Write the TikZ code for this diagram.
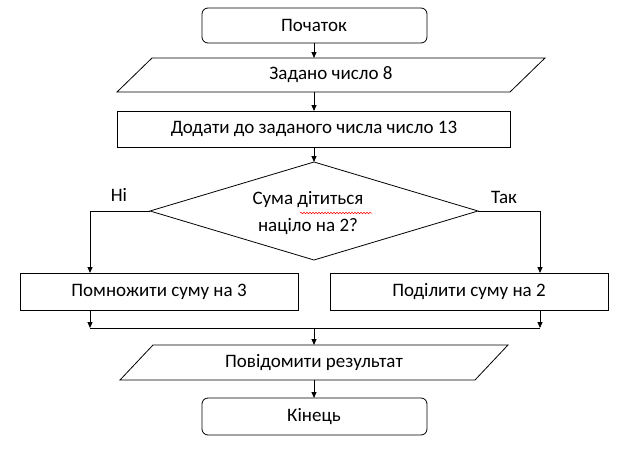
\documentclass[tikz,border=0pt]{standalone}
\usepackage{fontspec}
\setmainfont{Carlito}
\usetikzlibrary{arrows.meta,decorations.pathmorphing}
\begin{document}
\begin{tikzpicture}[x=1pt,y=-1pt,
  line/.style={draw=black,line width=0.8pt},
  arr/.style={line,-{Triangle[length=6pt,width=5pt]}},
  txt/.style={font=\fontsize{19}{27}\selectfont,align=center}]
\useasboundingbox (0,0) rectangle (625,450);
% start
\draw[line,rounded corners=6pt] (202,8) rectangle (427,43);
\node[txt] (start) at (314,25.5) {Початок};
\coordinate (startb) at (314,43);
% input
\draw[line] (152,58) -- (545,58) -- (510,92) -- (117,92) -- cycle;
\node[txt] (in) at (331,75) {Задано число 8};
\coordinate (int) at (314,58); \coordinate (inb) at (314,92);
% process
\draw[line] (117,111) rectangle (510,147);
\node[txt] (add) at (314,129) {Додати до заданого числа число 13};
\coordinate (addt) at (314,111); \coordinate (addb) at (314,147);
% decision
\draw[line] (314,162) -- (478,211) -- (314,260) -- (150,211) -- cycle;
\node[txt] (dec) at (308,213) {Сума дітиться\\націло на 2?};
\draw[red,line width=0.5pt,decorate,decoration={snake,amplitude=0.8pt,segment length=3pt}] (300,213) -- (372,213);
\coordinate (dect) at (314,162); \coordinate (decl) at (150,211); \coordinate (decr) at (478,211);
\node[txt] (no) at (119,195) {Ні};
\node[txt] (yes) at (504,197) {Так};
% branches
\draw[line] (20,273) rectangle (298,310);
\node[txt] (mul) at (159,291.5) {Помножити суму на 3};
\draw[line] (330,273) rectangle (608,310);
\node[txt] (div) at (469,291.5) {Поділити суму на 2};
\coordinate (mult) at (90,273); \coordinate (multb) at (90,310);
\coordinate (divt) at (540,273); \coordinate (divb) at (540,310);
\coordinate (jl) at (90,328); \coordinate (jr) at (540,328); \coordinate (jm) at (314,328);
% output
\draw[line] (153,345) -- (508,345) -- (475,380) -- (120,380) -- cycle;
\node[txt] (out) at (314,362.5) {Повідомити результат};
\coordinate (outt) at (314,345); \coordinate (outb) at (314,380);
% end
\draw[line,rounded corners=6pt] (202,398) rectangle (427,435);
\node[txt] (end) at (314,416.5) {Кінець};
\coordinate (endt) at (314,398);
% connectors
\draw[arr] (startb) -- (int);
\draw[arr] (inb) -- (addt);
\draw[arr] (addb) -- (dect);
\draw[arr] (decl) -| (mult);
\draw[arr] (decr) -| (divt);
\draw[arr] (multb) -- (jl);
\draw[arr] (divb) -- (jr);
\draw[line] (jl) -- (jr);
\draw[arr] (jm) -- (outt);
\draw[arr] (outb) -- (endt);
\end{tikzpicture}
\end{document}
